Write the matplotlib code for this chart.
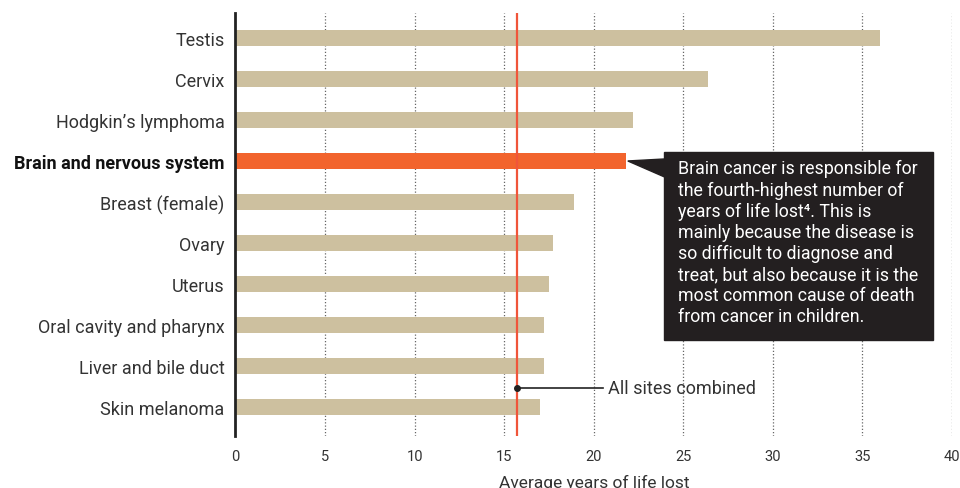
import matplotlib.pyplot as plt
from matplotlib.patches import Polygon

plt.rcParams["font.family"] = ["Roboto", "DejaVu Sans"]

sites = [
    "Testis",
    "Cervix",
    "Hodgkin\u2019s lymphoma",
    "Brain and nervous system",
    "Breast (female)",
    "Ovary",
    "Uterus",
    "Oral cavity and pharynx",
    "Liver and bile duct",
    "Skin melanoma",
]
years_lost = [36.0, 26.4, 22.2, 21.8, 18.9, 17.7, 17.5, 17.2, 17.2, 17.0]
highlight = "Brain and nervous system"
all_sites = 15.7
xticks = [0, 5, 10, 15, 20, 25, 30, 35, 40]

tan = "#cdc09f"
orange = "#f2642d"
red = "#f0553a"
dark = "#231f20"
text_col = "#333333"

fig = plt.figure(figsize=(9.6, 4.89), dpi=100)
ax = fig.add_axes([0.2453, 0.1063, 0.7464, 0.8651])

ypos = list(range(len(sites)))
colors = [orange if s == highlight else tan for s in sites]
ax.barh(ypos, years_lost, height=0.39, color=colors, zorder=2)

for x in xticks[1:]:
    ax.axvline(x, color="#666666", lw=0.9, ls=(0, (1, 1.6)), zorder=1)

ax.axvline(all_sites, color=red, lw=1.6, zorder=3)

ax.set_xlim(0, 40)
ax.set_ylim(9.71, -0.61)
ax.set_xticks(xticks)
ax.set_yticks(ypos)
ax.set_yticklabels(sites, fontsize=13, color=text_col)
for lbl in ax.get_yticklabels():
    if lbl.get_text() == highlight:
        lbl.set_fontweight("bold")
        lbl.set_color("#111111")
ax.tick_params(axis="y", length=0, pad=8)
ax.tick_params(axis="x", length=0, pad=9, labelsize=10.5, labelcolor=text_col)

for side in ["top", "right", "bottom"]:
    ax.spines[side].set_visible(False)
ax.spines["left"].set_linewidth(2)
ax.spines["left"].set_color("#222222")

ax.set_xlabel("Average years of life lost", fontsize=12.5, color=text_col, labelpad=8)

# callout box for brain cancer
bi = sites.index(highlight)
tip_x = years_lost[bi] + 0.1
box_left = 23.9
ax.add_patch(Polygon([(tip_x, bi), (box_left + 0.1, bi - 0.05), (box_left + 0.1, bi + 0.4)],
                     closed=True, color=dark, zorder=4, clip_on=False))
ax.add_patch(plt.Rectangle((box_left, bi - 0.21), 15.05, 4.57, color=dark, zorder=4, clip_on=False))
note = ("Brain cancer is responsible for\n"
        "the fourth-highest number of\n"
        "years of life lost\u2074. This is\n"
        "mainly because the disease is\n"
        "so difficult to diagnose and\n"
        "treat, but also because it is the\n"
        "most common cause of death\n"
        "from cancer in children.")
ax.text(box_left + 0.8, bi - 0.04, note, color="white", fontsize=12.8, va="top", ha="left",
        linespacing=1.22, zorder=5)

# all sites combined marker
ay = 8.55
ax.plot([all_sites, 20.5], [ay, ay], color="#222222", lw=1.2, zorder=5)
ax.plot([all_sites], [ay], "o", color="#222222", ms=4, zorder=6)
ax.text(20.8, ay, "All sites combined", fontsize=13, color=text_col, va="center", ha="left")

fig.savefig("out.png", dpi=100)
